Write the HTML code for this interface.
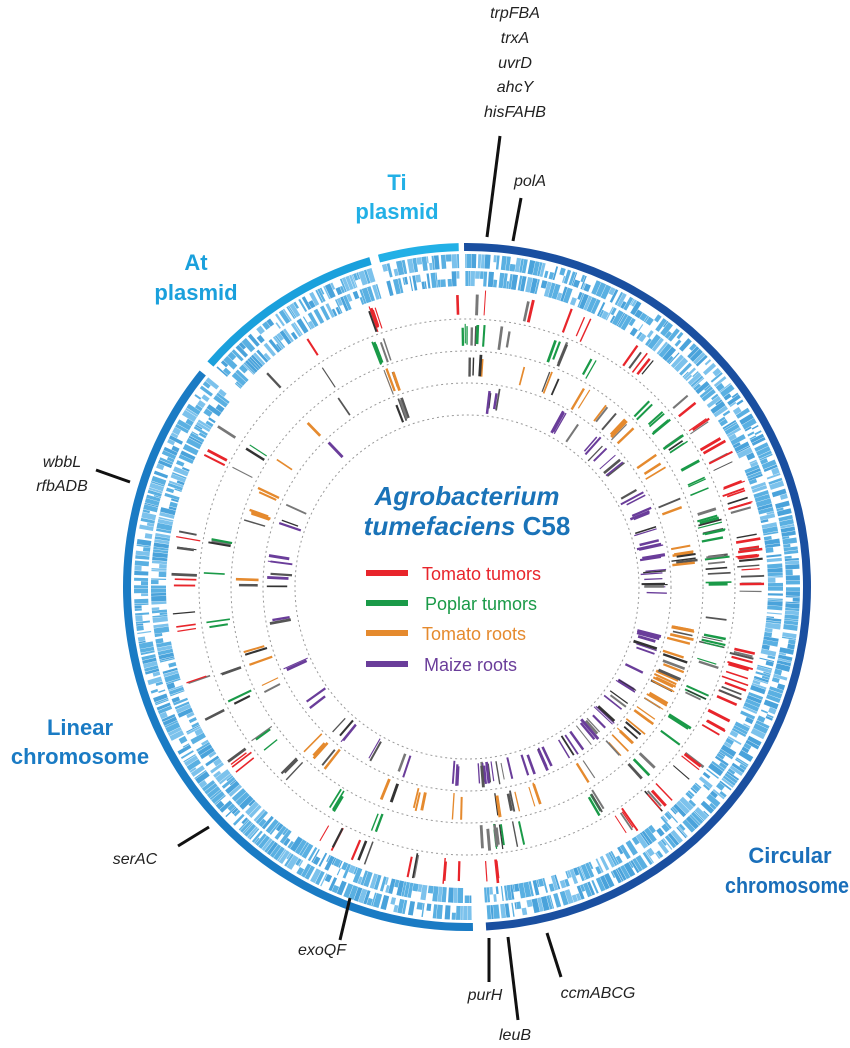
<!DOCTYPE html>
<html><head><meta charset="utf-8"><style>
html,body{margin:0;padding:0;background:#fff;}
svg{display:block;}
.g{font-family:"Liberation Sans",sans-serif;font-style:italic;font-size:16px;fill:#222;}
.seg{font-family:"Liberation Sans",sans-serif;font-weight:bold;font-size:22px;text-anchor:middle;}
.leg{font-family:"Liberation Sans",sans-serif;font-size:18px;}
</style></head><body>
<svg id="s" width="850" height="1048" viewBox="0 0 850 1048" xmlns="http://www.w3.org/2000/svg">
<g id="gen"></g>
<g class="g" text-anchor="middle">
<text x="515" y="18">trpFBA</text>
<text x="515" y="43">trxA</text>
<text x="515" y="68">uvrD</text>
<text x="515" y="92">ahcY</text>
<text x="515" y="117">hisFAHB</text>
<text x="530" y="186">polA</text>
<text x="62" y="467">wbbL</text>
<text x="62" y="491">rfbADB</text>
<text x="135" y="864">serAC</text>
<text x="322" y="955">exoQF</text>
<text x="485" y="1000">purH</text>
<text x="515" y="1040">leuB</text>
<text x="598" y="998">ccmABCG</text>
</g>
<g stroke="#111" stroke-width="3">
<line x1="500" y1="136" x2="487" y2="237"/>
<line x1="521" y1="198" x2="513" y2="241"/>
<line x1="96" y1="470" x2="130" y2="482"/>
<line x1="178" y1="846" x2="209" y2="827"/>
<line x1="340" y1="940" x2="350" y2="898"/>
<line x1="489" y1="938" x2="489" y2="982"/>
<line x1="508" y1="937" x2="518" y2="1020"/>
<line x1="547" y1="933" x2="561" y2="977"/>
</g>
<g class="seg">
<text x="397" y="190" fill="#22b0e6">Ti</text>
<text x="397" y="219" fill="#22b0e6">plasmid</text>
<text x="196" y="270" fill="#1aa0dc">At</text>
<text x="196" y="300" fill="#1aa0dc">plasmid</text>
<text x="80" y="735" fill="#1a7bc4">Linear</text>
<text x="80" y="764" fill="#1a7bc4">chromosome</text>
<text x="790" y="863" fill="#1a6fba">Circular</text>
<text x="787" y="893" fill="#1a6fba" textLength="124" lengthAdjust="spacingAndGlyphs">chromosome</text>
</g>
<g font-family="Liberation Sans,sans-serif" font-weight="bold" font-style="italic" font-size="26" fill="#1a73b8" text-anchor="middle">
<text x="467" y="505">Agrobacterium</text>
<text x="467" y="535">tumefaciens <tspan font-style="normal">C58</tspan></text>
</g>
<g stroke-width="6">
<line x1="366" y1="573" x2="408" y2="573" stroke="#e8252b"/>
<line x1="366" y1="603" x2="408" y2="603" stroke="#1a9a48"/>
<line x1="366" y1="633" x2="408" y2="633" stroke="#e58a2e"/>
<line x1="366" y1="664" x2="408" y2="664" stroke="#6a3d9a"/>
</g>
<g class="leg">
<text x="422" y="580" fill="#e8252b">Tomato tumors</text>
<text x="425" y="610" fill="#1a9a48">Poplar tumors</text>
<text x="422" y="640" fill="#e58a2e">Tomato roots</text>
<text x="424" y="671" fill="#6a3d9a">Maize roots</text>
</g>
</svg>
<script>
(function(){
var NS="http://www.w3.org/2000/svg",G=document.getElementById("gen");
var cx=467,cy=587,seed=7;
function rnd(){seed=(seed*16807)%2147483647;return (seed-1)/2147483646;}
function P(r,a){var t=a*Math.PI/180;return [cx+r*Math.sin(t),cy-r*Math.cos(t)];}
function el(n,at){var e=document.createElementNS(NS,n);for(var k in at)e.setAttribute(k,at[k]);G.appendChild(e);return e;}
function arcPath(r1,r2,a1,a2){var p1=P(r2,a1),p2=P(r2,a2),p3=P(r1,a2),p4=P(r1,a1);var l=(a2-a1)>180?1:0;
return "M"+p1+" A"+r2+","+r2+" 0 "+l+" 1 "+p2+" L"+p3+" A"+r1+","+r1+" 0 "+l+" 0 "+p4+"Z";}
var segs=[[-0.5,176.8,"#1a4fa0"],[179,309,"#1a7bc4"],[311,343.5,"#1aa0dc"],[345,358.6,"#22b0e6"]];
segs.forEach(function(s){el("path",{d:arcPath(336,344,s[0],s[1]),fill:s[2]});});
var rows=[[319,333],[301,316]];
segs.forEach(function(s){
 rows.forEach(function(rw){
  var a=s[0]+0.2;
  while(a<s[1]-0.2){
   var w=0.2+rnd()*0.8;if(a+w>s[1])w=s[1]-a;
   var r1=rw[0],r2=rw[1];
   var q=rnd();if(q<0.2){r2=(r1+r2)/2;}else if(q<0.35){r1=(r1+r2)/2;}
   var c=rnd()<0.5?"#5ab0e2":(rnd()<0.5?"#7cc2ec":"#4aa3db");
   el("path",{d:arcPath(r1,r2,a,a+w),fill:c});
   a+=w+(rnd()<0.8?0.06:0.25+rnd()*0.35);
  }
 });
});
[268,236,204,172].forEach(function(r){el("circle",{cx:cx,cy:cy,r:r,fill:"none",stroke:"#999","stroke-width":1,"stroke-dasharray":"2 3"});});
var tr=[[270,298,"#e8252b"],[238,265,"#1a9a48"],[206,233,"#e58a2e"],[174,201,"#6a3d9a"]];
var cl=[
 [1,3,6],[8,2,3],[14,2,2],[22,3,3],[30,2,2],[38,4,4],[46,3,3],[52,3,3],[58,3,3],[64,4,4],[70,3,4],[76,4,5],[82,3,5],[88,4,6],[94,3,5],[100,4,6],[106,3,5],[112,4,5],[118,3,4],[124,4,5],[130,3,4],[136,3,4],[142,3,3],[148,3,3],[155,3,3],[162,2,3],[170,4,6],[175,2,5],
 [183,2,4],[192,2,2],[200,3,2],[210,3,3],[222,4,4],[232,3,3],[244,2,2],[252,2,3],[262,3,3],[272,2,2],[279,2,3],[288,3,3],[296,2,2],[304,2,2],
 [316,2,1],[327,2,1],[340,2,5]];
var darks=["#555","#333","#777"];
tr.forEach(function(t,ti){
 cl.forEach(function(c){
  if(rnd()<0.3)return;
  var n=Math.max(1,Math.round(c[2]*(0.5+rnd())));
  for(var i=0;i<n;i++){
   var a=c[0]+(rnd()-0.5)*c[1]*2;
   var r1=t[0]+rnd()*6,r2=t[1]-rnd()*6;
   var col=rnd()<0.65?t[2]:darks[Math.floor(rnd()*3)];
   var p1=P(r1,a),p2=P(r2,a);
   el("line",{x1:p1[0],y1:p1[1],x2:p2[0],y2:p2[1],stroke:col,"stroke-width":1+rnd()*2});
  }
 });
});
})();
</script>
</body></html>
